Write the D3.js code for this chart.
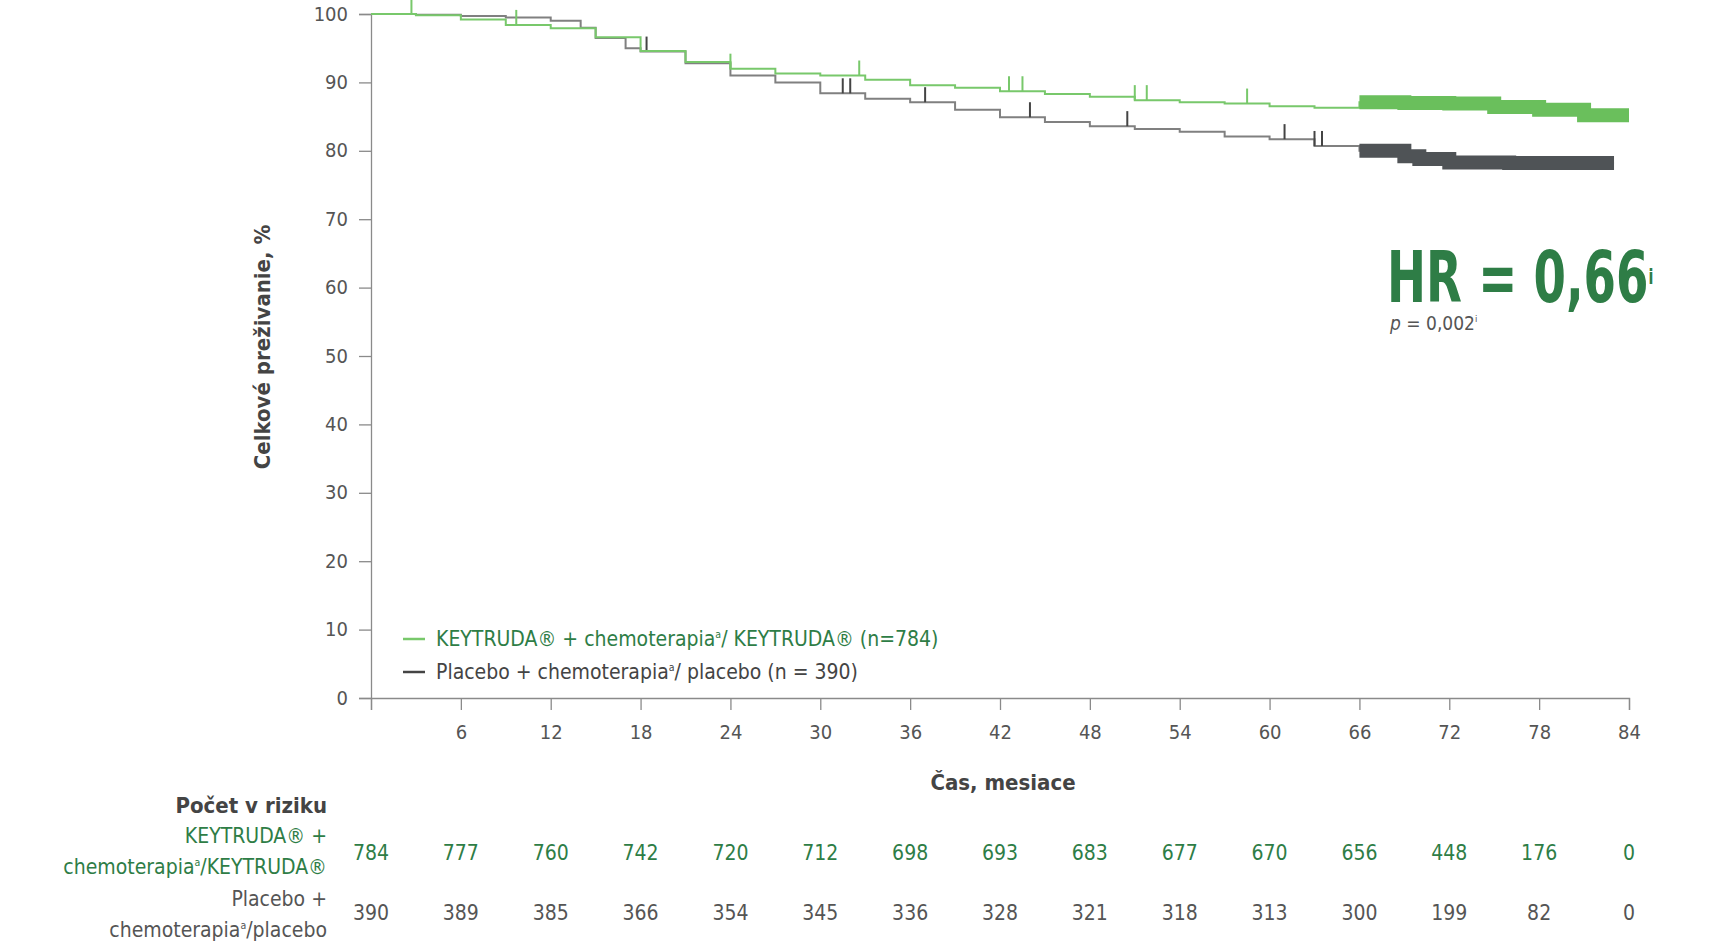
<!DOCTYPE html>
<html>
<head>
<meta charset="utf-8">
<script src="https://cdnjs.cloudflare.com/ajax/libs/d3/7.8.5/d3.min.js"></script>
<style>
  body { margin: 0; background: #fff; }
  text { font-family: "DejaVu Sans Condensed", "DejaVu Sans", sans-serif; font-stretch: condensed; }
</style>
</head>
<body>
<div id="chart"></div>
<script>
// data
var months = [0, 6, 12, 18, 24, 30, 36, 42, 48, 54, 60, 66, 72, 78, 84];
var yTicks = [0, 10, 20, 30, 40, 50, 60, 70, 80, 90, 100];

var keyTime = [0, 3, 6, 9, 12, 15, 18, 21, 24, 27, 30, 33, 36, 39, 42, 45, 48, 51, 54, 57, 60, 63, 66, 69, 72, 75, 78, 81, 84];
var keySurv = [100, 99.8, 99.2, 98.4, 97.9, 96.6, 94.6, 93, 92, 91.3, 91, 90.4, 89.6, 89.2, 88.7, 88.3, 87.9, 87.4, 87.1, 86.9, 86.5, 86.3, 87.1, 87, 86.9, 86.4, 86, 85.2, 85.2];
var keyCensor = [2.7, 9.7, 24, 32.6, 42.6, 43.5, 51, 51.8, 58.5];

var plaTime = [0, 3, 6, 9, 12, 14, 15, 17, 18, 21, 24, 27, 30, 33, 36, 39, 42, 45, 48, 51, 54, 57, 60, 63, 66, 67, 69, 70, 72, 76, 83];
var plaSurv = [100, 99.9, 99.7, 99.5, 99, 98, 96.5, 95, 94.5, 92.8, 91, 90, 88.4, 87.6, 87.1, 86, 84.9, 84.2, 83.6, 83.2, 82.8, 82.1, 81.7, 80.7, 80, 80, 79.2, 78.8, 78.3, 78.2, 78.2];
var plaCensor = [18.4, 31.5, 32, 37, 44, 50.5, 61, 63, 63.5];

var denseStart = 65.5; // heavy censoring from here on

var riskKey = [784, 777, 760, 742, 720, 712, 698, 693, 683, 677, 670, 656, 448, 176, 0];
var riskPla = [390, 389, 385, 366, 354, 345, 336, 328, 321, 318, 313, 300, 199, 82, 0];

var width = 1710, height = 950;
var green = "#2e7d46", lightGreen = "#78c86b", denseGreen = "#6abf5c",
    grayLine = "#808080", denseGray = "#4f5356", textGray = "#555";

var svg = d3.select("#chart").append("svg")
    .attr("width", width).attr("height", height);

var x = d3.scaleLinear().domain([0, 84]).range([371, 1629]);
var y = d3.scaleLinear().domain([0, 100]).range([698, 14]);

// axes
var xAxis = svg.append("g").attr("transform", "translate(0," + y(0) + ")")
    .call(d3.axisBottom(x).tickValues(months).tickSize(12).tickFormat(function(d) { return d === 0 ? "" : d; }));
var yAxis = svg.append("g").attr("transform", "translate(" + x(0) + ",0)")
    .call(d3.axisLeft(y).tickValues(yTicks).tickSize(12));
[xAxis, yAxis].forEach(function(a) {
    a.selectAll("path, line").attr("stroke", "#8a8a8a").attr("stroke-width", 1.3);
    a.selectAll("text").attr("fill", textGray).style("font-size", "20px");
});
xAxis.selectAll("text").attr("dy", "1.3em");
yAxis.selectAll("text").attr("dx", "-0.4em").attr("dy", "0.3em");

svg.append("text").attr("x", 1003).attr("y", 790).attr("text-anchor", "middle")
    .attr("fill", "#444").style("font-size", "22px").style("font-weight", "bold")
    .text("Čas, mesiace");
svg.append("text").attr("transform", "translate(270,347) rotate(-90)").attr("text-anchor", "middle")
    .attr("fill", "#444").style("font-size", "22px").style("font-weight", "bold")
    .text("Celkové preživanie, %");

// curves
var line = d3.line().curve(d3.curveStepAfter)
    .x(function(d) { return x(d[0]); }).y(function(d) { return y(d[1]); });

function drawArm(times, surv, censor, thin, dense, tick) {
    var pts = times.map(function(t, i) { return [t, surv[i]]; });
    svg.append("path").attr("d", line(pts)).attr("fill", "none")
        .attr("stroke", thin).attr("stroke-width", 2);
    var densePts = pts.filter(function(p) { return p[0] >= denseStart - 0.5; });
    svg.append("path").attr("d", line(densePts)).attr("fill", "none")
        .attr("stroke", dense).attr("stroke-width", 14);
    censor.forEach(function(c) {
        var i = d3.bisectRight(times, c) - 1;
        svg.append("line").attr("x1", x(c)).attr("x2", x(c))
            .attr("y1", y(surv[i])).attr("y2", y(surv[i] + 2.2))
            .attr("stroke", tick).attr("stroke-width", 2);
    });
}
drawArm(plaTime, plaSurv, plaCensor, grayLine, denseGray, "#444");
drawArm(keyTime, keySurv, keyCensor, lightGreen, denseGreen, lightGreen);

// superscript helper: sup tspan then baseline reset with absolute px
function supText(t, base, sup, rest, size) {
    t.append("tspan").text(base);
    t.append("tspan").attr("dy", -size * 0.4).style("font-size", (size * 0.5) + "px").text(sup);
    if (rest !== null) t.append("tspan").attr("dy", size * 0.4).text(rest);
}

// legend
var legend = [
    { label: "KEYTRUDA® + chemoterapia", sup: "a", rest: "/ KEYTRUDA® (n=784)", line: lightGreen, color: green, y: 639 },
    { label: "Placebo + chemoterapia", sup: "a", rest: "/ placebo (n = 390)", line: "#444", color: "#444", y: 672 }
];
legend.forEach(function(l) {
    svg.append("line").attr("x1", 403).attr("x2", 425).attr("y1", l.y).attr("y2", l.y)
        .attr("stroke", l.line).attr("stroke-width", 2.5);
    var t = svg.append("text").attr("x", 436).attr("y", l.y + 7).attr("fill", l.color).style("font-size", "21px");
    supText(t, l.label, l.sup, l.rest, 21);
});

// HR
var hr = svg.append("text").attr("transform", "translate(1387,302) scale(0.72,1)").attr("fill", green)
    .style("font-size", "72px").style("font-weight", "bold");
supText(hr, "HR = 0,66", "i", null, 44);
var p = svg.append("text").attr("x", 1390).attr("y", 330).attr("fill", textGray).style("font-size", "19px");
p.append("tspan").style("font-style", "italic").text("p");
supText(p, " = 0,002", "i", null, 19);

// risk table
svg.append("text").attr("x", 327).attr("y", 813).attr("text-anchor", "end")
    .attr("fill", "#444").style("font-size", "22px").style("font-weight", "bold").text("Počet v riziku");
function rowLabel(lines, color, y0) {
    lines.forEach(function(l, i) {
        var t = svg.append("text").attr("x", 327).attr("y", y0 + i * 31).attr("text-anchor", "end")
            .attr("fill", color).style("font-size", "21px");
        if (l.length > 1) supText(t, l[0], l[1], l[2], 21);
        else t.text(l[0]);
    });
}
rowLabel([["KEYTRUDA® +"], ["chemoterapia", "a", "/KEYTRUDA®"]], green, 843);
rowLabel([["Placebo +"], ["chemoterapia", "a", "/placebo"]], "#555", 906);

function riskRow(vals, color, yy) {
    svg.append("g").selectAll("text").data(vals).join("text")
        .attr("x", function(d, i) { return x(months[i]); }).attr("y", yy)
        .attr("text-anchor", "middle").attr("fill", color).style("font-size", "21px")
        .text(function(d) { return d; });
}
riskRow(riskKey, green, 860);
riskRow(riskPla, "#555", 920);
</script>
</body>
</html>
